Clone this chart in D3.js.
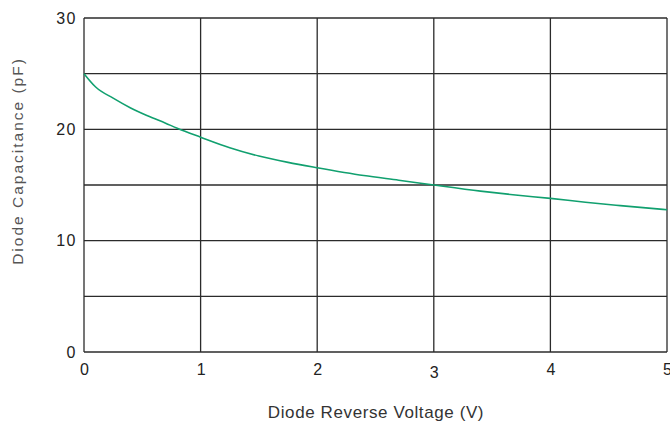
<!DOCTYPE html>
<html>
<head>
<meta charset="utf-8">
<script src="https://cdn.jsdelivr.net/npm/d3@7"></script>
<style>
  html, body { margin: 0; padding: 0; background: #fff; }
  svg { display: block; font-family: "Liberation Sans", Arial, sans-serif; }
</style>
</head>
<body>
<svg id="chart" width="670" height="426"></svg>
<script>
// reverse voltage (V) and capacitance (pF)
var voltage = [0, 0.1, 0.25, 0.4, 0.55, 0.7, 0.8, 1.0, 1.25, 1.5, 1.75, 2.0, 2.4, 2.7, 3.0, 3.4, 3.7, 4.0, 4.3, 4.6, 5.0];
var capacitance = [25, 23.8, 22.8, 21.92, 21.2, 20.55, 20.1, 19.3, 18.35, 17.6, 17.03, 16.55, 15.85, 15.43, 15.0, 14.45, 14.1, 13.8, 13.45, 13.15, 12.78];
var xTicks = [0, 1, 2, 3, 4, 5];
var yLabelTicks = [0, 10, 20, 30];
var yGridTicks = [0, 5, 10, 15, 20, 25, 30];

var M = { left: 84, right: 3, top: 18, bottom: 74 };
var W = 670, H = 426;
var FONT = '"Liberation Sans", Arial, sans-serif';
var svg = d3.select('#chart');

var x = d3.scaleLinear().domain([0, 5]).range([M.left, W - M.right]);
var y = d3.scaleLinear().domain([0, 30]).range([H - M.bottom, M.top]);

// grid
var grid = svg.append('g').attr('stroke', '#2b2b2b').attr('stroke-width', 1.3);
grid.selectAll('line.v').data(xTicks).join('line').attr('class', 'v')
  .attr('x1', function (d) { return x(d); }).attr('x2', function (d) { return x(d); })
  .attr('y1', y(0)).attr('y2', y(30));
grid.selectAll('line.h').data(yGridTicks).join('line').attr('class', 'h')
  .attr('x1', x(0)).attr('x2', x(5))
  .attr('y1', function (d) { return y(d); }).attr('y2', function (d) { return y(d); });

// curve
var pts = voltage.map(function (v, i) { return [v, capacitance[i]]; });
svg.append('path').datum(pts)
  .attr('fill', 'none').attr('stroke', '#11a06f').attr('stroke-width', 1.6)
  .attr('d', d3.line().x(function (d) { return x(d[0]); }).y(function (d) { return y(d[1]); }).curve(d3.curveMonotoneX));

// tick labels
var xa = svg.append('g').attr('transform', 'translate(0,' + y(0) + ')')
  .call(d3.axisBottom(x).tickValues(xTicks).tickSize(0).tickPadding(10).tickFormat(d3.format('d')));
xa.select('.domain').remove();
xa.selectAll('text').attr('font-size', 16).attr('fill', '#222').style('font-family', FONT)
  .attr('dy', function (d) { return d === 3 ? '1.0em' : '0.8em'; }); // the "3" sits a little lower in the source

var ya = svg.append('g').attr('transform', 'translate(' + x(0) + ',0)')
  .call(d3.axisLeft(y).tickValues(yLabelTicks).tickSize(0).tickPadding(7).tickFormat(d3.format('d')));
ya.select('.domain').remove();
ya.selectAll('text').attr('font-size', 16).attr('fill', '#222').style('font-family', FONT)
  .style('letter-spacing', '1.5px');

// axis titles
svg.append('text').attr('x', 376).attr('y', 418).attr('text-anchor', 'middle')
  .attr('font-size', 17).attr('fill', '#333').style('letter-spacing', '0.6px')
  .text('Diode Reverse Voltage (V)');
svg.append('text').attr('transform', 'translate(23,161) rotate(-90)').attr('text-anchor', 'middle')
  .attr('font-size', 15.5).attr('fill', '#555').style('letter-spacing', '2px')
  .text('Diode Capacitance (pF)');
</script>
</body>
</html>
